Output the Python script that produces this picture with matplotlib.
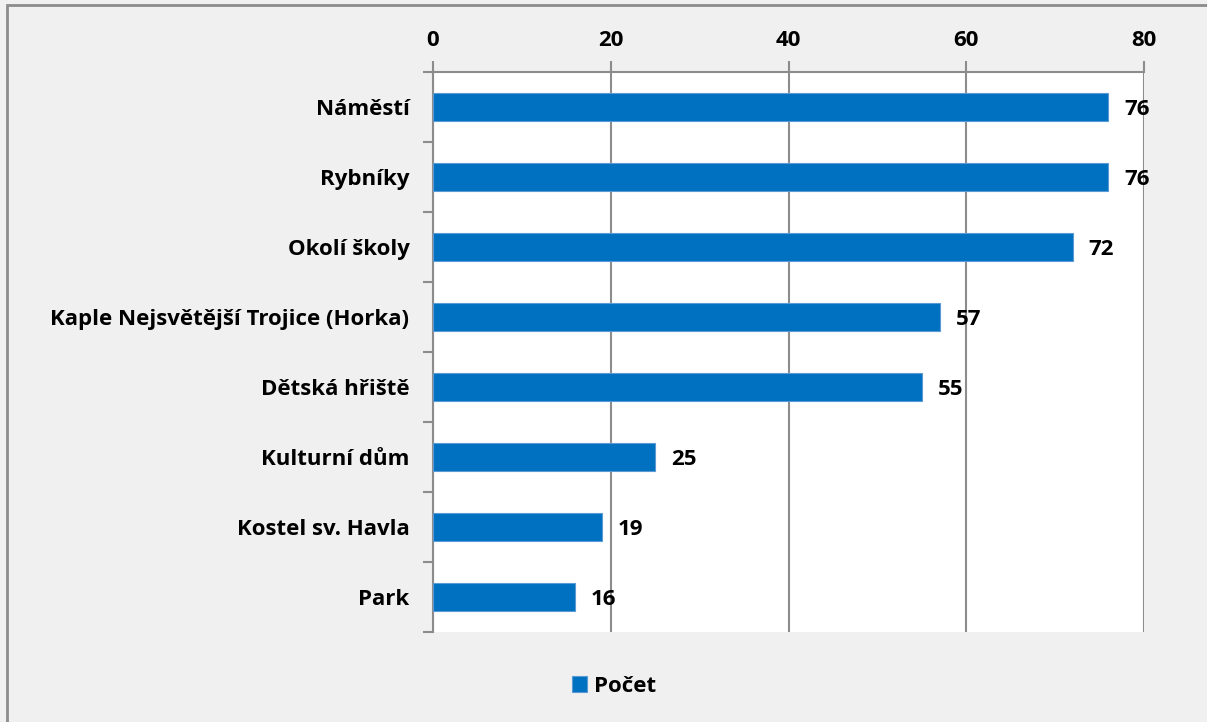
import matplotlib
matplotlib.use("Agg")
import matplotlib.pyplot as plt
from matplotlib.patches import Rectangle
import numpy as np

categories = ["Náměstí", "Rybníky", "Okolí školy", "Kaple Nejsvětější Trojice (Horka)",
              "Dětská hřiště", "Kulturní dům", "Kostel sv. Havla", "Park"]
values = [76, 76, 72, 57, 55, 25, 19, 16]
series_name = "Počet"
x_ticks = [0, 20, 40, 60, 80]

plt.rcParams['font.family'] = ['Open Sans', 'DejaVu Sans']

W, H = 1207, 722
FS = 16
fig = plt.figure(figsize=(W / 100, H / 100), dpi=100)
fig.patch.set_facecolor("#f0f0f0")

# outer chart border (extends beyond right/bottom edges)
fig.patches.append(Rectangle((6.5 / W, -0.1), 1.2, 1.1 - 5.0 / H,
                             transform=fig.transFigure, fill=False,
                             edgecolor="#8c8c8c", linewidth=2.0, zorder=0))

ax = fig.add_axes([433 / W, 1 - 632 / H, (1144 - 433) / W, (632 - 72) / H])
ax.set_facecolor("white")

n = len(categories)
pos = np.arange(n)
bars = ax.barh(pos, values, height=0.4, color="#0070C0", edgecolor="#5B9BD5",
               linewidth=0.8, label=series_name, zorder=3)
ax.set_ylim(n - 0.5, -0.5)
ax.set_xlim(0, 80)

ax.xaxis.tick_top()
ax.set_xticks(x_ticks)
ax.set_xticklabels([str(t) for t in x_ticks], fontsize=FS, fontweight="bold")
ax.tick_params(axis="x", which="major", direction="out", length=8, width=1.5,
               color="#8c8c8c", pad=7)

ax.set_yticks(pos)
ax.set_yticklabels(categories, fontsize=FS, fontweight="bold")
ax.tick_params(axis="y", which="major", length=0, pad=17)
ax.set_yticks(np.arange(n + 1) - 0.5, minor=True)
ax.tick_params(axis="y", which="minor", direction="out", length=7, width=1.5,
               color="#8c8c8c")

ax.grid(axis="x", color="#8c8c8c", linewidth=1.5, zorder=1)
ax.set_axisbelow(True)
for s in ["right", "bottom"]:
    ax.spines[s].set_visible(False)
for s in ["top", "left"]:
    ax.spines[s].set_color("#8c8c8c")
    ax.spines[s].set_linewidth(1.5)

texts = ax.bar_label(bars, labels=[str(v) for v in values], padding=11.5,
                     fontsize=FS, fontweight="bold", color="black")
for t in texts:
    t.set_verticalalignment("center_baseline")

fig.legend(handles=[bars], labels=[series_name], loc="center",
           bbox_to_anchor=(614 / W, 1 - 686 / H), frameon=False,
           prop={"size": FS, "weight": "bold"}, handlelength=0.7,
           handleheight=0.7, handletextpad=0.3)

fig.savefig("out.png", dpi=100, facecolor=fig.get_facecolor())
